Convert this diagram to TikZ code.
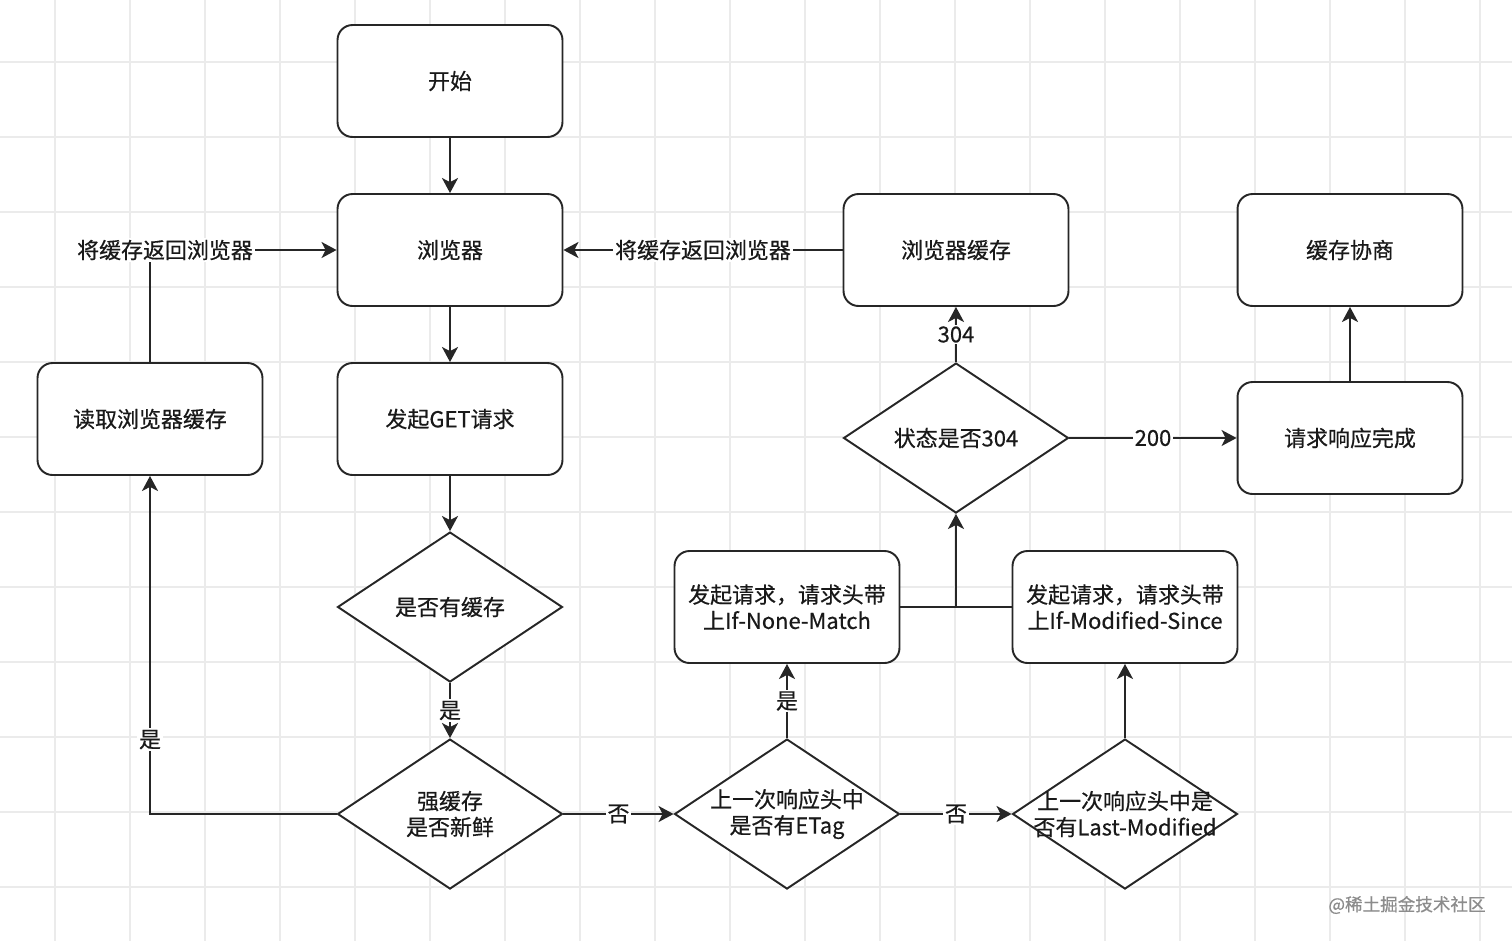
\documentclass[tikz,border=0pt]{standalone}
\usepackage{fontspec}
\setmainfont{Noto Sans CJK SC}[FakeBold=0.5]
\usetikzlibrary{shapes.geometric, arrows.meta}

\begin{document}
\begin{tikzpicture}[x=0.02cm, y=-0.02cm,
  every node/.style={font=\fontsize{12.5}{14.8}\selectfont, text=black!90},
  box/.style={draw=black!85, rounded corners=0.3cm, line width=1.1pt, minimum width=4.5cm,
    minimum height=2.24cm, align=center, fill=white},
  decision/.style={draw=black!85, diamond, line width=1.1pt, minimum width=4.5cm,
    minimum height=3cm, inner sep=0pt, fill=white},
  flow/.style={draw=black!85, -{Stealth[length=0.3cm, width=0.32cm, inset=0.08cm]}, line width=1.1pt},
  lbl/.style={fill=white, inner sep=1pt},
  gridline/.style={black!8, line width=0.8pt}]
  \useasboundingbox (0,0) rectangle (1512,941);
  \fill[white] (0,0) rectangle (1512,941);
  \foreach \gx in {55,130,...,1480}
    \draw[gridline] (\gx,0) -- (\gx,941);
  \foreach \gy in {62,137,...,940}
    \draw[gridline] (0,\gy) -- (1512,\gy);

  \node[box] (start) at (450,81) {开始};
  \node[box] (browser) at (450,250) {浏览器};
  \node[box] (getreq) at (450,419) {发起GET请求};
  \node[decision, label={center:是否有缓存}] (hascache) at (450,607) {};
  \node[decision, label={[align=center]center:强缓存\\是否新鲜}] (fresh) at (450,814) {};
  \node[box] (readcache) at (150,419) {读取浏览器缓存};
  \node[box] (bcache) at (956,250) {浏览器缓存};
  \node[box] (negotiate) at (1350,250) {缓存协商};
  \node[decision, label={center:状态是否304}] (q304) at (956,438) {};
  \node[box] (done) at (1350,438) {请求响应完成};
  \node[box] (nonematch) at (787,607) {发起请求，请求头带\\上If-None-Match};
  \node[box] (modsince) at (1125,607) {发起请求，请求头带\\上If-Modified-Since};
  \node[decision, label={[align=center]center:上一次响应头中\\是否有ETag}] (etag) at (787,814) {};
  \node[decision, label={[align=center]center:上一次响应头中是\\否有Last-Modified}] (lastmod) at (1125,814) {};

  \draw[flow] (start) -- (browser);
  \draw[flow] (browser) -- (getreq);
  \draw[flow] (getreq) -- (hascache);
  \draw[flow] (hascache) -- node[lbl] {是} (fresh);
  \draw[flow] (fresh.west) -| node[lbl, pos=0.61] {是} (readcache.south);
  \draw[flow] (readcache.north) |- node[lbl, pos=0.5, xshift=0.3cm] {将缓存返回浏览器} (browser.west);
  \draw[flow] (bcache.west) -- node[lbl] {将缓存返回浏览器} (browser.east);
  \draw[flow] (fresh.east) -- node[lbl] {否} (etag.west);
  \draw[flow] (etag.east) -- node[lbl] {否} (lastmod.west);
  \draw[flow] (etag.north) -- node[lbl] {是} (nonematch.south);
  \draw[flow] (lastmod.north) -- (modsince.south);
  \draw[draw=black!85, line width=1.1pt] (nonematch.east) -- coordinate[midway] (merge) (modsince.west);
  \draw[flow] (merge) -- (q304.south);
  \draw[flow] (q304.north) -- node[lbl] {304} (bcache.south);
  \draw[flow] (q304.east) -- node[lbl] {200} (done.west);
  \draw[flow] (done) -- (negotiate);

  \node[text=black!45, font=\fontsize{10}{12}\selectfont] (mark) at (1407,905) {@稀土掘金技术社区};
\end{tikzpicture}
\end{document}
